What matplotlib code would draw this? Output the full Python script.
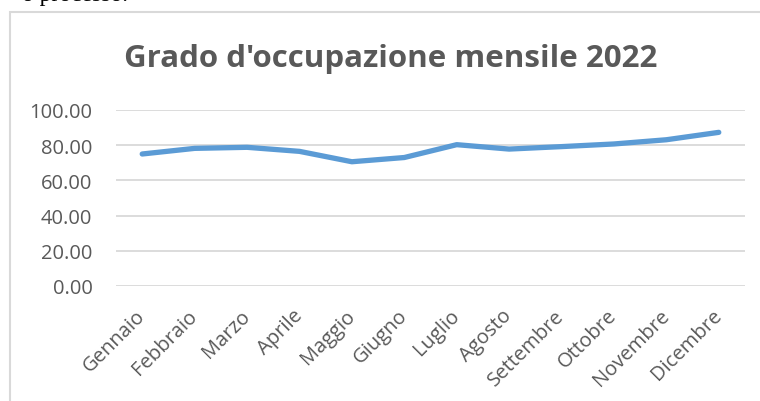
import numpy as np
import matplotlib
matplotlib.use("Agg")
from matplotlib import pyplot as plt
from matplotlib.patches import Rectangle

months = ["Gennaio", "Febbraio", "Marzo", "Aprile", "Maggio", "Giugno",
          "Luglio", "Agosto", "Settembre", "Ottobre", "Novembre", "Dicembre"]
occupancy = [75.0, 78.2, 78.8, 76.5, 70.6, 73.0, 80.3, 77.8, 79.2, 80.7, 83.1, 87.3]
y_ticks = [0, 20, 40, 60, 80, 100]
title = "Grado d'occupazione mensile 2022"

grey_text = "#595959"
grid_col = "#D9D9D9"
line_col = "#5B9BD5"

fig = plt.figure(figsize=(7.6, 4.02), dpi=100)
W, H = 760, 402

# chart frame (clipped at right and bottom like the screenshot)
fig.patches.append(Rectangle((10 / W, -0.1), 1.0, 1 - 12.5 / H + 0.1, transform=fig.transFigure,
                             fill=False, edgecolor=grid_col, linewidth=1.5))

# fragment of the document text above the chart, mostly cut off
fig.text(22 / W, 1 - 0.5 / H, "o processo.", family="Liberation Serif", fontsize=17,
         color="black", ha="left", va="baseline")

ax = fig.add_axes([116 / W, 1 - 287 / H, (745 - 116) / W, (287 - 111) / H])
x = np.arange(len(months))
ax.plot(x, occupancy, color=line_col, linewidth=3.8, solid_capstyle="round", solid_joinstyle="round")
ax.set_xlim(-0.5, len(months) - 0.5)
ax.set_ylim(0, 100)
ax.set_yticks(y_ticks)
ax.set_yticklabels([f"{v:.2f}" for v in y_ticks])
ax.set_xticks(x)
ax.set_xticklabels(months, rotation=45, ha="right", va="center", rotation_mode="anchor")
for s in ax.spines.values():
    s.set_visible(False)
ax.grid(axis="y", color=grid_col, linewidth=1.3)
ax.set_axisbelow(True)
ax.tick_params(axis="both", length=0, colors=grey_text, labelsize=14.5)
ax.tick_params(axis="y", pad=17)
ax.tick_params(axis="x", pad=19)
for lab in ax.get_xticklabels() + ax.get_yticklabels():
    lab.set_family("Open Sans")

fig.text(391 / W, 1 - 67 / H, title, family="Open Sans", fontweight="bold", fontsize=22.5,
         color=grey_text, ha="center", va="baseline")

fig.savefig("out.png", dpi=100)
